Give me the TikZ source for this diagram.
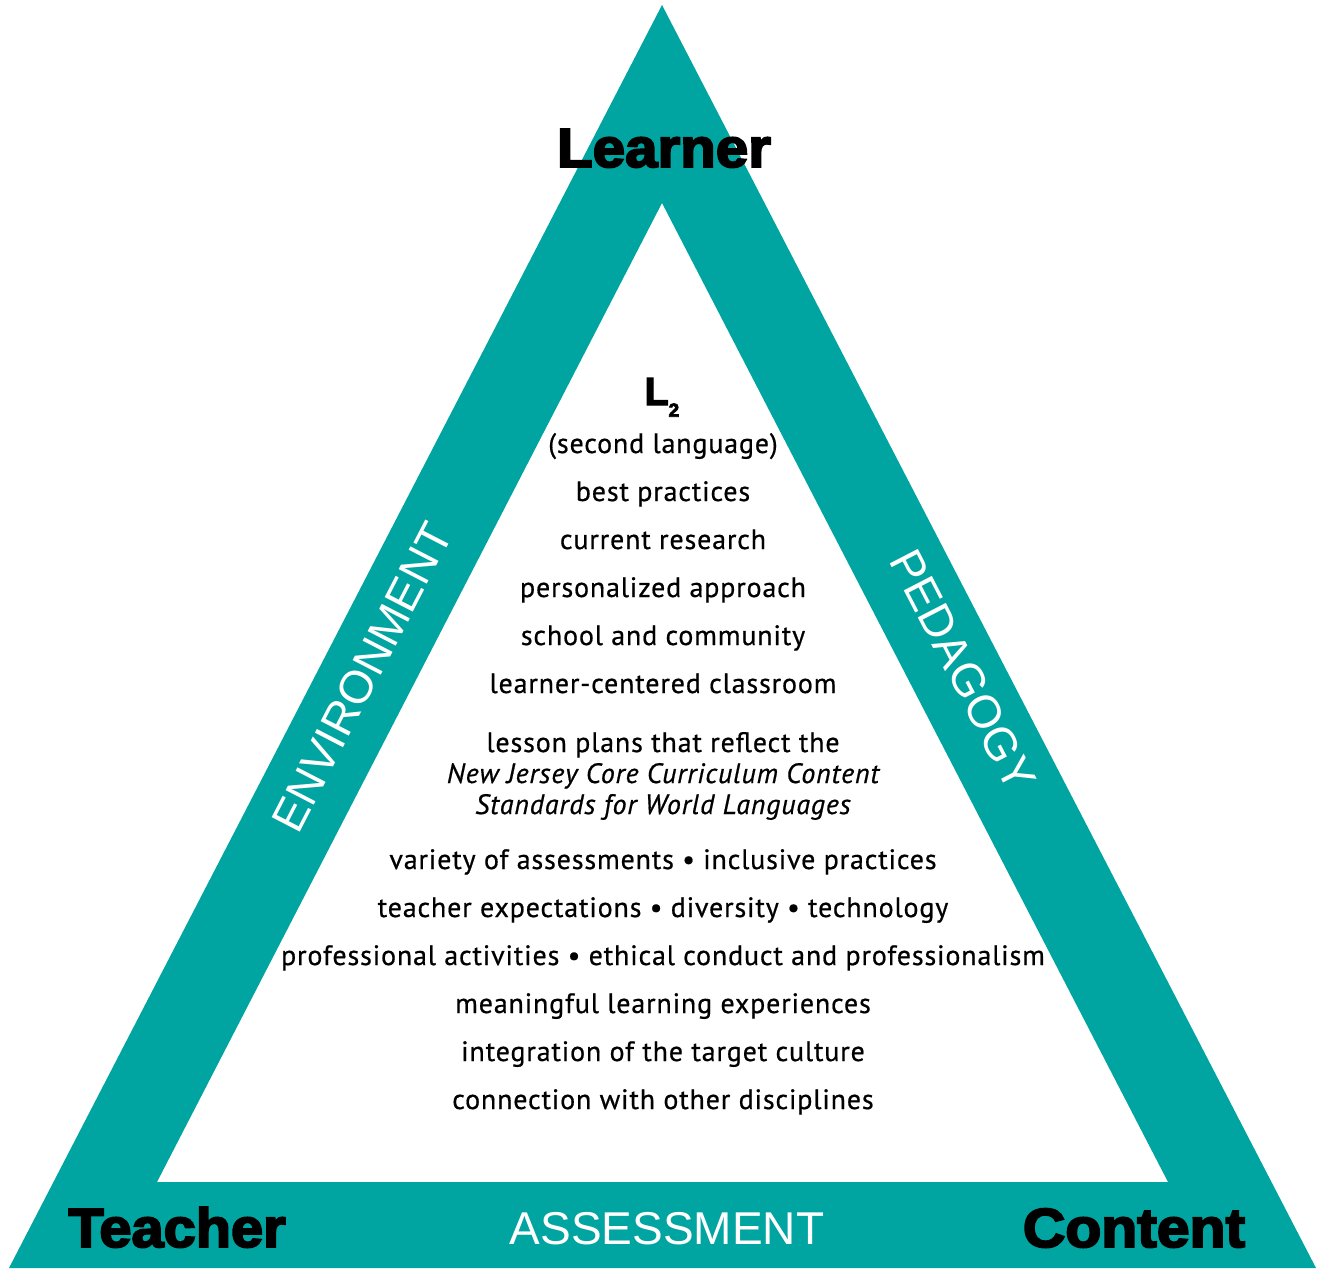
\documentclass[tikz,border=0pt]{standalone}
\usepackage{fontspec}
\setmainfont[LetterSpace=3,FakeBold=0.6]{PT Sans}
\newfontfamily\heavyfont[FakeBold=3.5]{Liberation Sans Bold}
\newfontfamily\helvfont{Liberation Sans}
\definecolor{teal}{RGB}{0,164,160}
\begin{document}
\begin{tikzpicture}[x=0.5pt,y=-0.5pt,
  body/.style={anchor=base,inner sep=0pt,font=\fontsize{14}{16}\selectfont},
  corner/.style={anchor=base,inner sep=0pt,font=\heavyfont\fontsize{27.5}{30}\selectfont},
  side/.style={inner sep=0pt,text=white,font=\helvfont\fontsize{23}{26}\selectfont}]
\useasboundingbox (0,0) rectangle (1320,1268);
\fill[teal,even odd rule] (662,5) -- (1316,1268) -- (9,1268) -- cycle
  (662,203) -- (1168,1182) -- (157,1182) -- cycle;
\node[corner,xscale=1.06] (learner) at (664,167) {Learner};
\node[corner,xscale=1.05] (teacher) at (177,1247) {Teacher};
\node[corner,xscale=1.07] (content) at (1134,1247) {Content};
\node[side,anchor=base] (assess) at (667,1244) {ASSESSMENT};
\node[side,rotate=62.7] (env) at (362,677) {ENVIRONMENT};
\node[side,rotate=-62.7] (ped) at (963,670) {PEDAGOGY};
\node[anchor=base,inner sep=0pt,font=\heavyfont\fontsize{19.5}{20}\selectfont] (l2) at (662,405) {L\raisebox{-0.3em}{\fontsize{9.5}{10}\selectfont 2}};
\node[body] (t1) at (663,453) {(second language)};
\node[body] (t2) at (663,501) {best practices};
\node[body] (t3) at (663,549) {current research};
\node[body] (t4) at (663,597) {personalized approach};
\node[body] (t5) at (663,645) {school and community};
\node[body] (t6) at (663,693) {learner-centered classroom};
\node[body] (t7) at (663,752) {lesson plans that reflect the};
\node[body] (t8) at (663,783) {\itshape New Jersey Core Curriculum Content};
\node[body] (t9) at (663,814) {\itshape Standards for World Languages};
\node[body] (t10) at (663,869) {variety of assessments \textbullet\ inclusive practices};
\node[body] (t11) at (663,917) {teacher expectations \textbullet\ diversity \textbullet\ technology};
\node[body] (t12) at (663,965) {professional activities \textbullet\ ethical conduct and professionalism};
\node[body] (t13) at (663,1013) {meaningful learning experiences};
\node[body] (t14) at (663,1061) {integration of the target culture};
\node[body] (t15) at (663,1109) {connection with other disciplines};
\end{tikzpicture}
\end{document}
